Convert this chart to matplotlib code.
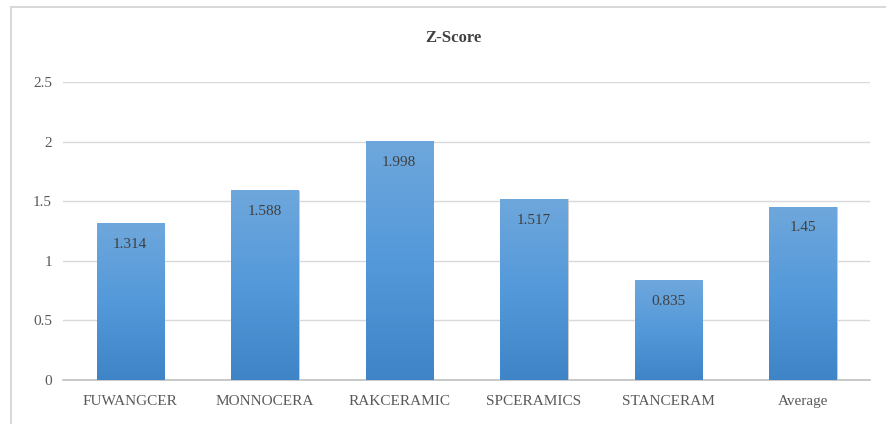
import numpy as np
import matplotlib
matplotlib.use("Agg")
from matplotlib import pyplot as plt
from matplotlib.patches import Rectangle
from matplotlib.colors import LinearSegmentedColormap

categories = ["FUWANGCER", "MONNOCERA", "RAKCERAMIC", "SPCERAMICS", "STANCERAM", "Average"]
scores = [1.314, 1.588, 1.998, 1.517, 0.835, 1.45]
score_labels = ["1.314", "1.588", "1.998", "1.517", "0.835", "1.45"]
yticks = [0, 0.5, 1, 1.5, 2, 2.5]
ytick_labels = ["0", "0.5", "1", "1.5", "2", "2.5"]

plt.rcParams["font.family"] = ["Liberation Serif", "DejaVu Serif"]

fig = plt.figure(figsize=(8.87, 4.24), dpi=100)
# chart border (Excel style), cut off at the right and bottom edges
fig.patches.append(Rectangle((11 / 887, -0.1), 1.1, 1 - 7 / 424 + 0.1,
                             transform=fig.transFigure, fill=False,
                             edgecolor="#d9d9d9", linewidth=1.5))

ax = fig.add_axes([63 / 887, 1 - 380 / 424, (870 - 63) / 887, (380 - 82) / 424])
x = np.arange(len(categories))
width = 0.5
bars = ax.bar(x, scores, width=width, color="none", zorder=3)

# vertical gradient fill: lighter on top, darker at the bottom
cmap = LinearSegmentedColormap.from_list("bar", ["#3f84c6", "#5499da", "#6ea7dc"])
grad = np.linspace(0, 1, 256).reshape(-1, 1)
for b in bars:
    x0, w, h = b.get_x(), b.get_width(), b.get_height()
    ax.imshow(grad, cmap=cmap, origin="lower", aspect="auto",
              extent=(x0, x0 + w, 0, h), zorder=3)
    # faint shadow on the right side
    ax.add_patch(Rectangle((x0 + w, 0), 0.012, h, color="#cccccc", zorder=2, linewidth=0))

for xi, v, lab in zip(x, scores, score_labels):
    ax.annotate(lab, (xi, v), xytext=(0, -15), textcoords="offset points",
                ha="center", va="center", fontsize=11, color="#404040", zorder=4)

ax.set_xlim(-0.5, len(categories) - 0.5)
ax.set_ylim(0, 2.5)
ax.set_yticks(yticks)
ax.set_yticklabels(ytick_labels)
ax.set_xticks(x)
ax.set_xticklabels(categories)
ax.tick_params(axis="both", length=0, labelsize=11, labelcolor="#595959")
ax.tick_params(axis="y", pad=8)
ax.tick_params(axis="x", pad=11)
ax.grid(axis="y", color="#d9d9d9", linewidth=1, zorder=0)
ax.set_axisbelow(True)
for s in ["top", "right", "left"]:
    ax.spines[s].set_visible(False)
ax.spines["bottom"].set_color("#bfbfbf")
ax.spines["bottom"].set_linewidth(1.2)

fig.text(453 / 887, 1 - 38 / 424, "Z-Score", ha="center", va="center",
         fontsize=12, fontweight="bold", color="#404040")

fig.savefig("out.png", dpi=100)
